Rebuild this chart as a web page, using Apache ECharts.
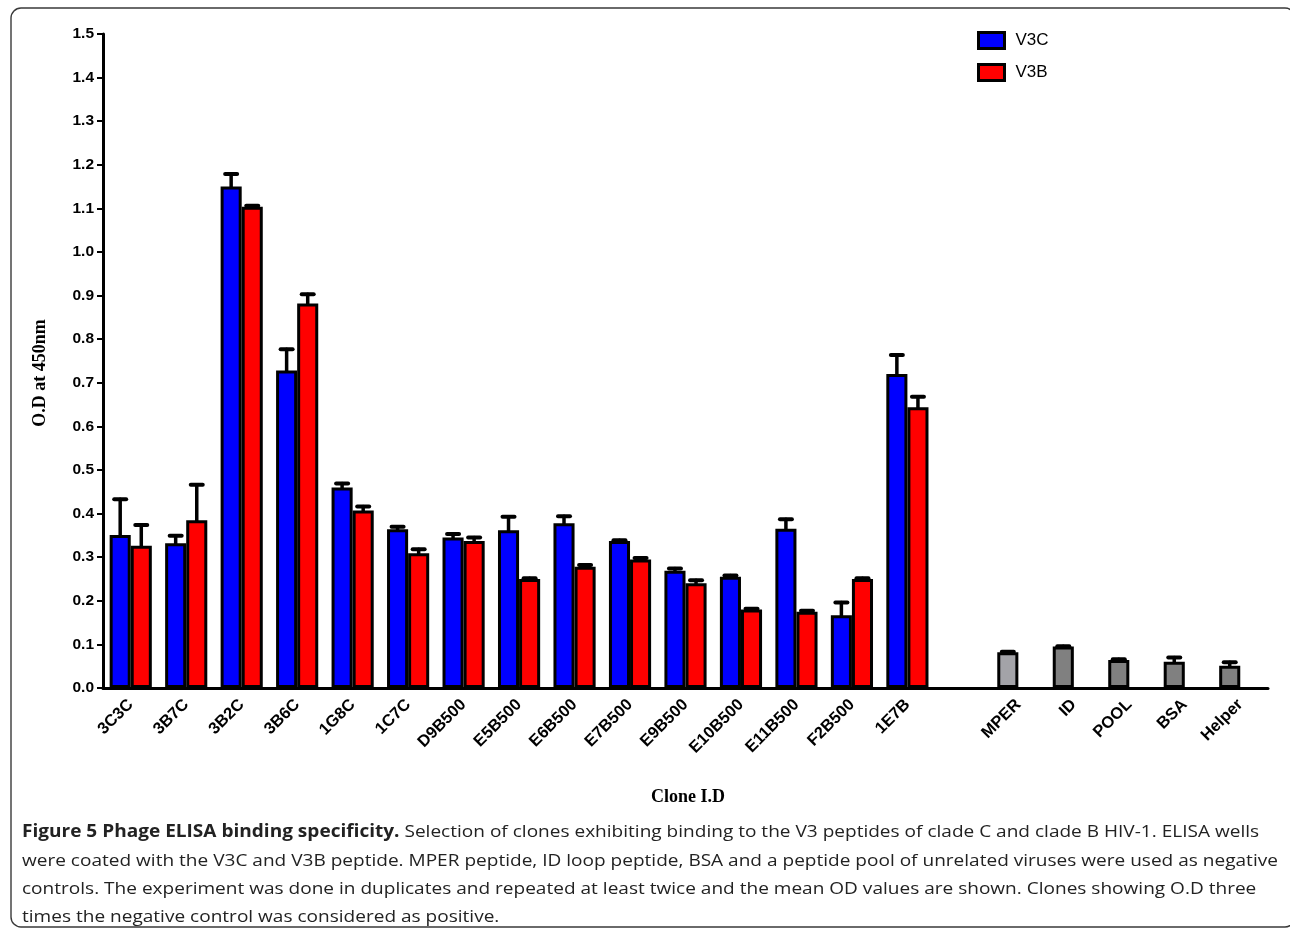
<!DOCTYPE html>
<html>
<head>
<meta charset="utf-8">
<script src="https://cdn.jsdelivr.net/npm/echarts@6/dist/echarts.min.js"></script>
<style>
html,body{margin:0;padding:0;background:#fff;}
#chart{width:1290px;height:932px;}
</style>
</head>
<body>
<div id="chart"></div>
<script>
// ---- data ----
const clones = ['3C3C','3B7C','3B2C','3B6C','1G8C','1C7C','D9B500','E5B500','E6B500','E7B500','E9B500','E10B500','E11B500','F2B500','1E7B'];
const v3cMean = [0.351,0.332,1.150,0.728,0.460,0.364,0.345,0.362,0.378,0.337,0.269,0.255,0.365,0.167,0.720];
const v3cErr  = [0.082,0.017,0.029,0.049,0.009,0.006,0.008,0.031,0.016,0.002,0.005,0.003,0.022,0.029,0.044];
const v3bMean = [0.326,0.385,1.104,0.882,0.407,0.309,0.337,0.250,0.278,0.295,0.240,0.180,0.175,0.250,0.644];
const v3bErr  = [0.048,0.081,0.002,0.021,0.009,0.009,0.008,0.002,0.004,0.003,0.007,0.002,0.002,0.002,0.024];
const controls = ['MPER','ID','POOL','BSA','Helper'];
const controlMean = [0.082,0.095,0.064,0.060,0.051];
const controlErr  = [0.001,0.001,0.002,0.010,0.008];
const controlColors = ['#a3a3a8','#808080','#808080','#808080','#808080'];
const yTicks = [0,1.5,0.1];

const captionLines = [
  ['Figure 5 Phage ELISA binding specificity.', ' Selection of clones exhibiting binding to the V3 peptides of clade C and clade B HIV-1. ELISA wells'],
  ['', 'were coated with the V3C and V3B peptide. MPER peptide, ID loop peptide, BSA and a peptide pool of unrelated viruses were used as negative'],
  ['', 'controls. The experiment was done in duplicates and repeated at least twice and the mean OD values are shown. Clones showing O.D three'],
  ['', 'times the negative control was considered as positive.']
];

// ---- build series data ----
const categories = clones.concat(['']).concat(controls);
const gapIdx = clones.length;
const v3cData = v3cMean.map(v => v).concat([null]).concat(controlMean.map((v,i) => ({value: v, itemStyle: {color: controlColors[i]}})));
const v3bData = v3bMean.map(v => v).concat([null]).concat(controls.map(() => null));
const errData = [];
v3cMean.forEach((m,i) => errData.push([i, m, m + v3cErr[i], -1]));
v3bMean.forEach((m,i) => errData.push([i, m, m + v3bErr[i], 1]));
controlMean.forEach((m,i) => errData.push([gapIdx + 1 + i, m, m + controlErr[i], -1]));

const CAT_GAP = 0.24;
const chart = echarts.init(document.getElementById('chart'), null, {renderer: 'canvas'});
const sans = "'Liberation Sans', Arial, sans-serif";
const serif = "'Liberation Serif', 'Times New Roman', serif";
const capFont = "'Open Sans', 'Noto Sans', sans-serif";

const graphics = [{
  type: 'rect', silent: true, z: 0,
  shape: {x: 11, y: 8, width: 1284, height: 919, r: 10},
  style: {fill: 'none', stroke: '#3a3a3a', lineWidth: 1.4}
}, {
  type: 'text', silent: true, x: 40, y: 373, rotation: Math.PI / 2,
  style: {text: 'O.D at 450nm', fontFamily: serif, fontWeight: 'bold', fontSize: 18, fill: '#000',
    textAlign: 'center', textVerticalAlign: 'middle'}
}, {
  type: 'text', silent: true, x: 688, y: 797,
  style: {text: 'Clone I.D', fontFamily: serif, fontWeight: 'bold', fontSize: 18, fill: '#000',
    textAlign: 'center', textVerticalAlign: 'middle'}
}];
const lineY = [832, 861, 889, 917];
captionLines.forEach((ln, i) => {
  graphics.push({
    type: 'text', silent: true, x: 22, y: lineY[i], scaleX: 1.12, originX: 0, originY: 0,
    style: {
      text: (ln[0] ? '{b|' + ln[0] + '}' : '') + ln[1],
      fontFamily: capFont, fontSize: 17, fill: '#222', textVerticalAlign: 'middle',
      rich: {b: {fontWeight: 'bold', fontSize: 17, fontFamily: capFont, fill: '#222'}}
    }
  });
});

chart.setOption({
  animation: false,
  backgroundColor: '#fff',
  grid: {left: 103, right: 22, top: 34, bottom: 244, containLabel: false},
  legend: {
    orient: 'vertical', left: 972, top: 26, itemWidth: 26, itemHeight: 16, itemGap: 13, icon: 'rect',
    itemStyle: {borderColor: '#000', borderWidth: 3},
    textStyle: {fontFamily: sans, fontSize: 17, color: '#000', padding: [0, 0, 0, 6]},
    data: ['V3C','V3B']
  },
  xAxis: {
    type: 'category', data: categories, boundaryGap: true,
    axisLine: {lineStyle: {color: '#000', width: 3}},
    axisTick: {alignWithLabel: true, length: 7, lineStyle: {color: '#000', width: 2}},
    axisLabel: {interval: 0, rotate: 45, margin: 14, fontFamily: sans, fontWeight: 'bold', fontSize: 16.5, color: '#000'}
  },
  yAxis: {
    type: 'value', min: yTicks[0], max: yTicks[1], interval: yTicks[2],
    axisLine: {show: true, lineStyle: {color: '#000', width: 3}},
    axisTick: {show: true, length: 6, lineStyle: {color: '#000', width: 2}},
    axisLabel: {fontFamily: sans, fontWeight: 'bold', fontSize: 15.5, color: '#000', margin: 9,
      formatter: v => v.toFixed(1)},
    splitLine: {show: false}
  },
  series: [
    {name: 'V3C', type: 'bar', data: v3cData, barGap: '0%', barCategoryGap: (CAT_GAP*100) + '%',
      itemStyle: {color: '#0000ff', borderColor: '#000', borderWidth: 3}, z: 2},
    {name: 'V3B', type: 'bar', data: v3bData,
      itemStyle: {color: '#ff0000', borderColor: '#000', borderWidth: 3}, z: 2},
    {name: 'err', type: 'custom', data: errData, z: 3, silent: true,
      renderItem: function (params, api) {
        const idx = api.value(0), m = api.value(1), u = api.value(2), slot = api.value(3);
        const p0 = api.coord([idx, m]);
        const p1 = api.coord([idx, u]);
        const band = api.size([1, 0])[0];
        const bw = band * (1 - CAT_GAP) / 2;
        const cx = p0[0] + slot * bw / 2;
        return {type: 'group', children: [
          {type: 'line', shape: {x1: cx, y1: p0[1], x2: cx, y2: p1[1]}, style: {stroke: '#000', lineWidth: 3.5, lineCap: 'round'}},
          {type: 'line', shape: {x1: cx - 6, y1: p1[1], x2: cx + 6, y2: p1[1]}, style: {stroke: '#000', lineWidth: 4, lineCap: 'round'}}
        ]};
      }
    }
  ],
  graphic: graphics
});
</script>
</body>
</html>
